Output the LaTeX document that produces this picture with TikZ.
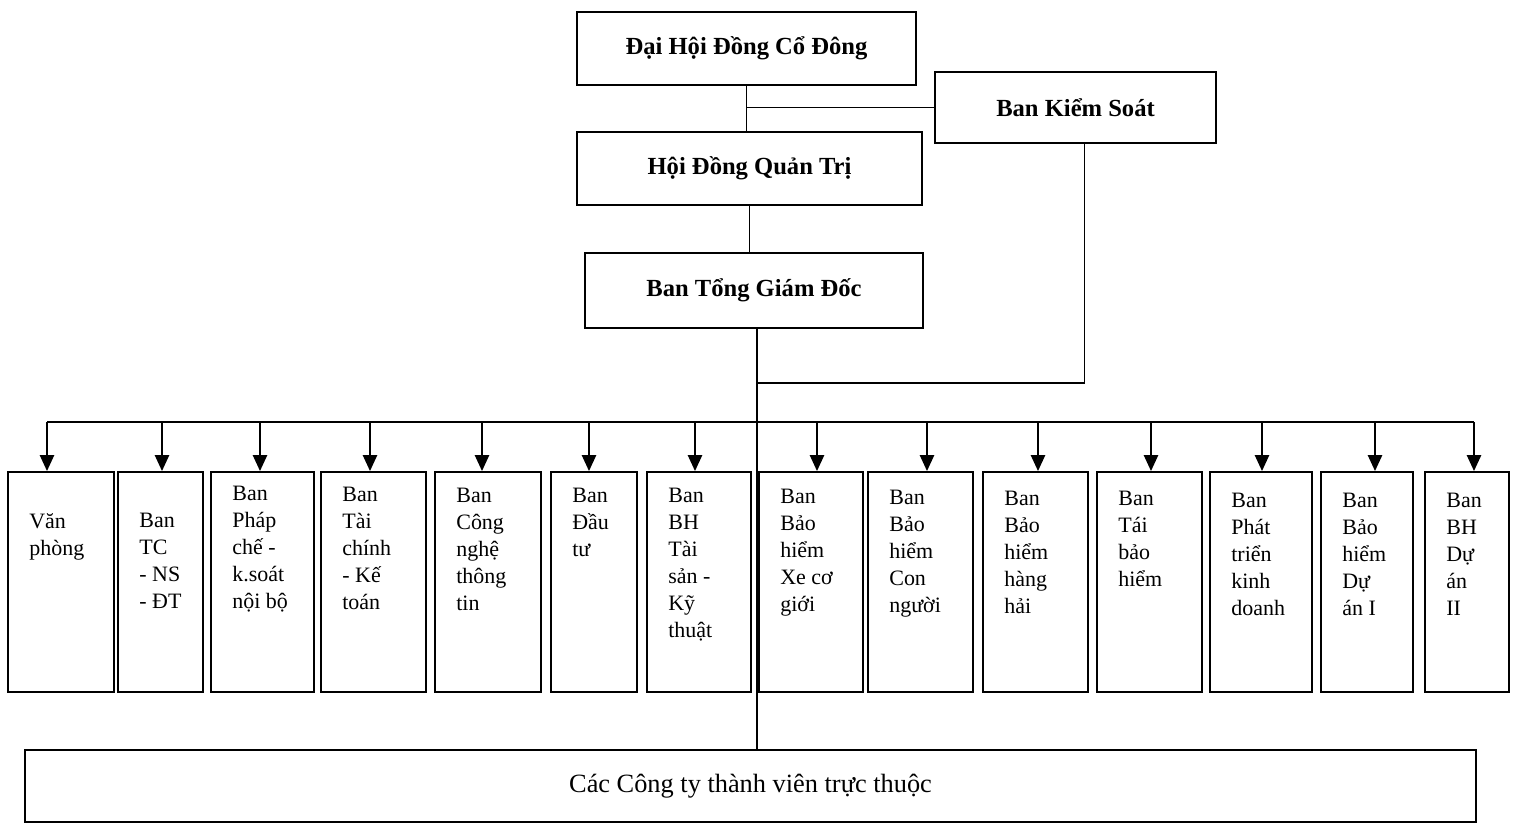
\documentclass[tikz,border=0pt]{standalone}
\usepackage{fontspec}
\setmainfont{Liberation Serif}
\usetikzlibrary{arrows.meta}

\tikzset{
  topbox/.style={draw, line width=1.1pt, inner sep=0pt, font=\fontsize{14}{16}\selectfont\bfseries},
  deptbox/.style={draw, line width=1.1pt, inner sep=0pt, minimum height=4.4cm},
  depttext/.style={anchor=north west, align=left, inner sep=0pt, font=\fontsize{12.5}{15.3}\selectfont},
  link/.style={line width=0.8pt},
  down/.style={line width=1.1pt, -{Triangle[width=8pt,length=9pt]}}
}

\begin{document}
\begin{tikzpicture}[x=0.02cm, y=-0.02cm]
\useasboundingbox (0,0) rectangle (1514,824);

% upper levels
\node[topbox, minimum width=6.78cm, minimum height=1.46cm] (dhd) at (746.5,48.5) {Đại Hội Đồng Cổ Đông};
\node[topbox, minimum width=5.62cm, minimum height=1.42cm] (bks) at (1075.5,107.5) {Ban Kiểm Soát};
\node[topbox, minimum width=6.90cm, minimum height=1.46cm] (hdqt) at (749.5,168.5) {Hội Đồng Quản Trị};
\node[topbox, minimum width=6.76cm, minimum height=1.50cm] (tgd) at (754,290.5) {Ban Tổng Giám Đốc};
\node[draw, line width=1.1pt, minimum width=29.02cm, minimum height=1.44cm,
      font=\fontsize{15}{17}\selectfont] (cty) at (750.5,786) {Các Công ty thành viên trực thuộc};

\coordinate (bus) at (0,422);
\coordinate (j) at (757,383);

\draw[link] (dhd.south) -- (dhd.south |- hdqt.north);
\draw[link] (bks.west) -- (bks.west -| dhd.south);
\draw[link] (hdqt.south) -- (hdqt.south |- tgd.north);
\draw[link] (j |- tgd.south) -- (j |- cty.north);
\draw[link] ([xshift=0.18cm]bks.south) |- (j);

% departments: number / left / right / text top / arrow shift / text
\foreach \i/\l/\r/\ty/\dx/\txt in {
  1/8/114/513/-14/Văn\\phòng,
  2/118/203/513/1.5/Ban\\TC\\- NS\\- ĐT,
  3/211/314/486/-2.5/Ban\\Pháp\\chế -\\k.soát\\nội bộ,
  4/321/426/487/-3.5/Ban\\Tài\\chính\\- Kế\\toán,
  5/435/541/488/-6/Ban\\Công\\nghệ\\thông\\tin,
  6/551/637/488/-5/Ban\\Đầu\\tư,
  7/647/751/488/-4/Ban\\BH\\Tài\\sản -\\Kỹ\\thuật,
  8/759/863/489/6/Ban\\Bảo\\hiểm\\Xe cơ\\giới,
  9/868/973/490/6.5/Ban\\Bảo\\hiểm\\Con\\người,
  10/983/1088/491/2.5/Ban\\Bảo\\hiểm\\hàng\\hải,
  11/1097/1202/491/1.5/Ban\\Tái\\bảo\\hiểm,
  12/1210/1312/493/1/Ban\\Phát\\triển\\kinh\\doanh,
  13/1321/1413/493/8/Ban\\Bảo\\hiểm\\Dự\\án I,
  14/1425/1509/493/7/Ban\\BH\\Dự\\án\\II}
{
  \node[deptbox, minimum width={(\r-\l)*0.02cm}] (b\i) at ({(\l+\r)/2},582) {};
  \node[depttext] (t\i) at (\l+21,\ty) {\txt};
  \draw[down] ([xshift=\dx*0.02cm]b\i.north |- bus) -- ([xshift=\dx*0.02cm]b\i.north);
}
\draw[line width=1.1pt] ([xshift=-0.28cm]b1.north |- bus) -- ([xshift=0.14cm]b14.north |- bus);
\end{tikzpicture}
\end{document}
